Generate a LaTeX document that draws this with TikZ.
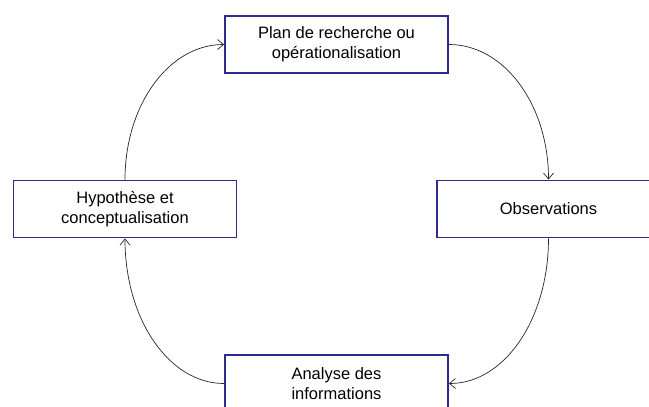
\documentclass[tikz,border=0pt]{standalone}
\usepackage{fontspec}
\setmainfont{Liberation Sans}
\usetikzlibrary{arrows.meta}
\definecolor{boxblue}{HTML}{2C2C8E}
\tikzset{
  stagebox/.style={draw=boxblue, line width=1.9pt, fill=white, rectangle,
    minimum width=223pt, minimum height=57pt, inner sep=0pt, align=center,
    font=\fontsize{16.5pt}{20pt}\selectfont},
  flow/.style={draw=black!85, line width=0.7pt, -{Straight Barb[length=6pt,width=10pt]}}
}
\begin{document}
\begin{tikzpicture}[x=1pt,y=-1pt]
\useasboundingbox (0,0) rectangle (649,407);
\node[stagebox] (T) at (336.5,44.5) {Plan de recherche ou\\opérationalisation};
\node[stagebox] (R) at (548.5,209) {Observations};
\node[stagebox] (L) at (125,209) {Hypothèse et\\conceptualisation};
\node[stagebox] (B) at (336.5,383.5) {Analyse des\\informations};
\draw[flow] (L.north) .. controls +(0,-74.5) and +(-55.2,0) .. (T.west);
\draw[flow] (T.east) .. controls +(55.5,0) and +(0,-74.5) .. (R.north);
\draw[flow] (R.south) .. controls +(0,80.6) and +(55.5,0) .. (B.east);
\draw[flow] (B.west) .. controls +(-55.2,0) and +(0,80.6) .. (L.south);
\end{tikzpicture}
\end{document}
